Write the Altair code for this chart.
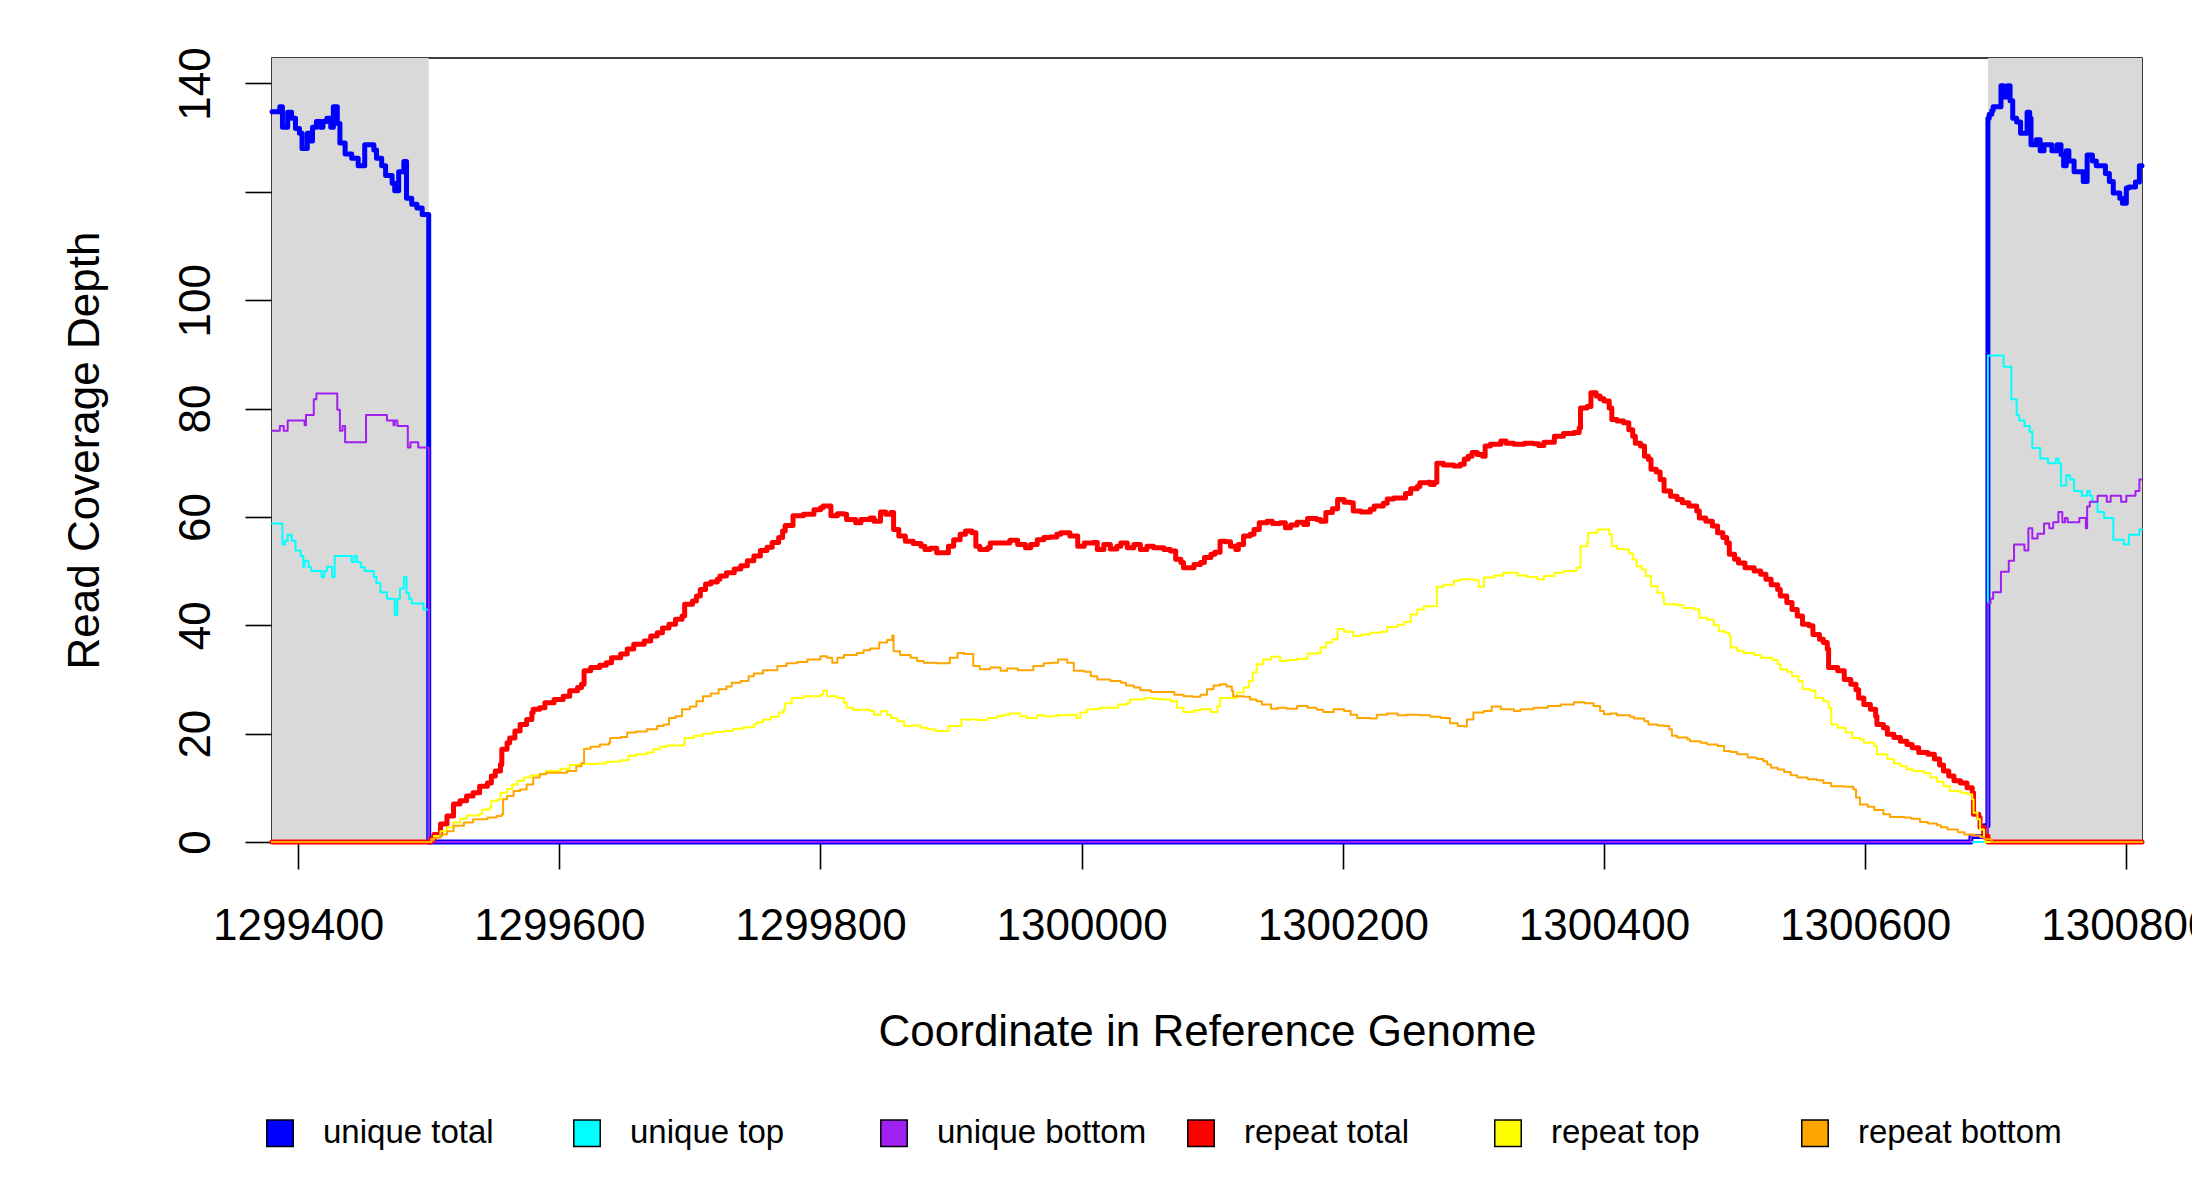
import altair as alt
import pandas as pd

# ---------------- data ----------------
SERIES_NAMES = ["unique total", "unique top", "unique bottom",
                "repeat total", "repeat top", "repeat bottom"]
SERIES_COLORS = ["#0000FF", "#00FFFF", "#A020F0", "#FF0000", "#FFFF00", "#FFA500"]
SERIES_WIDTHS = [5.0, 2.0, 2.0, 5.0, 2.0, 2.0]

X_TICKS = [1299400, 1299600, 1299800, 1300000, 1300200, 1300400, 1300600, 1300800]
Y_TICKS = [0, 20, 40, 60, 80, 100, 120, 140]
X_DOMAIN = [1299380, 1300812]
Y_DOMAIN = [0, 144.7]
FLANK_START = [1299380, 1300694]
FLANK_END = [1299500, 1300812]

UNIQUE_TOTAL = [
    (1299380, 134.8), (1299386, 135.7), (1299388, 131.9), (1299392, 134.7), (1299395, 133.6),
    (1299398, 131.7), (1299401, 130.8), (1299403, 128.0), (1299407, 130.8), (1299409, 129.4),
    (1299411, 131.9), (1299414, 133.0), (1299417, 131.9), (1299419, 133.0), (1299422, 133.6),
    (1299425, 131.9), (1299427, 135.7), (1299430, 132.6), (1299432, 129.0), (1299436, 127.0),
    (1299441, 126.2), (1299446, 124.8), (1299451, 128.7), (1299458, 127.7), (1299460, 126.2),
    (1299464, 124.8), (1299467, 123.0), (1299472, 121.6), (1299474, 120.2), (1299477, 123.7),
    (1299481, 125.6), (1299483, 118.8), (1299487, 117.7), (1299491, 117.0), (1299495, 115.8),
    (1299500, 0), (1300681, 1), (1300691, 3),
    (1300694, 133.6), (1300695, 134.3), (1300697, 135.0), (1300698, 135.7), (1300704, 139.6),
    (1300706, 137.5), (1300709, 139.6), (1300711, 136.8), (1300713, 133.6), (1300716, 132.9),
    (1300719, 130.8), (1300724, 134.7), (1300726, 133.6), (1300727, 128.7), (1300731, 129.6),
    (1300734, 127.6), (1300737, 128.7), (1300743, 127.6), (1300747, 128.7), (1300750, 126.9),
    (1300752, 124.8), (1300754, 127.6), (1300756, 125.7), (1300760, 123.7), (1300767, 121.9),
    (1300770, 126.8), (1300774, 125.7), (1300777, 124.8), (1300784, 123.4), (1300787, 121.9),
    (1300790, 119.8), (1300795, 118.8), (1300797, 117.9), (1300800, 120.7), (1300802, 120.9),
    (1300807, 121.8), (1300810, 124.8), (1300812, 124.8),
]

UNIQUE_TOP = [
    (1299380, 58.8), (1299388, 54.9), (1299390, 55.6), (1299392, 56.7), (1299395, 55.6),
    (1299398, 53.8), (1299402, 52.8), (1299404, 50.8), (1299405, 51.9), (1299408, 50.7),
    (1299410, 50.0), (1299418, 48.9), (1299420, 50.0), (1299422, 50.8), (1299426, 48.9),
    (1299428, 52.8), (1299441, 51.7), (1299443, 52.8), (1299445, 51.7), (1299448, 50.7),
    (1299451, 50.0), (1299458, 48.9), (1299460, 47.8), (1299463, 46.1), (1299468, 44.9),
    (1299474, 41.9), (1299476, 44.9), (1299478, 46.8), (1299481, 48.9), (1299483, 45.9),
    (1299485, 44.9), (1299487, 44.0), (1299496, 42.9), (1299500, 0),
    (1300694, 89.8), (1300706, 87.7), (1300712, 81.7), (1300716, 78.8), (1300718, 77.8),
    (1300722, 76.8), (1300726, 75.7), (1300728, 72.7), (1300734, 70.8), (1300740, 69.9),
    (1300746, 70.8), (1300748, 69.9), (1300750, 65.8), (1300754, 67.7), (1300757, 66.9),
    (1300760, 64.8), (1300766, 63.9), (1300770, 64.8), (1300772, 63.9), (1300774, 62.7),
    (1300778, 60.9), (1300783, 59.8), (1300790, 55.8), (1300798, 54.9), (1300802, 56.7),
    (1300810, 57.7), (1300812, 57.7),
]

UNIQUE_BOTTOM = [
    (1299380, 75.9), (1299386, 76.8), (1299389, 75.9), (1299392, 77.8), (1299405, 76.9),
    (1299406, 78.8), (1299412, 81.7), (1299414, 82.8), (1299430, 79.8), (1299432, 75.9),
    (1299434, 76.8), (1299436, 73.8), (1299452, 78.8), (1299468, 77.8), (1299473, 76.9),
    (1299474, 77.8), (1299476, 76.8), (1299484, 72.8), (1299486, 73.8), (1299492, 72.8),
    (1299500, 0), (1300681, 1.1),
    (1300694, 44.0), (1300696, 44.9), (1300698, 46.1), (1300704, 49.9), (1300710, 51.9),
    (1300714, 54.9), (1300722, 53.8), (1300725, 57.9), (1300728, 56.0), (1300732, 56.9),
    (1300737, 58.8), (1300741, 57.9), (1300744, 59.0), (1300748, 60.9), (1300751, 59.0),
    (1300753, 59.8), (1300755, 59.0), (1300764, 59.8), (1300769, 57.9), (1300770, 61.9),
    (1300772, 62.8), (1300778, 63.9), (1300785, 62.8), (1300788, 63.9), (1300796, 62.8),
    (1300800, 63.9), (1300807, 64.8), (1300810, 66.9), (1300812, 66.9),
]

REPEAT_TOTAL = [
    (1299380, 0), (1299502, 0.6), (1299504, 1.4), (1299509, 3.3), (1299514, 4.8), (1299519, 7.0),
    (1299524, 7.6), (1299529, 8.5), (1299534, 9.1), (1299539, 10.3), (1299545, 10.9),
    (1299548, 12.2), (1299551, 13.1), (1299555, 14.3), (1299556, 17.1), (1299560, 18.3),
    (1299562, 19.2), (1299566, 20.5), (1299570, 21.7), (1299575, 22.6), (1299579, 23.9),
    (1299580, 24.5), (1299585, 24.8), (1299589, 25.7), (1299596, 26.3), (1299603, 26.9),
    (1299608, 27.9), (1299614, 28.5), (1299617, 29.1), (1299619, 31.6), (1299624, 32.2),
    (1299631, 32.6), (1299636, 33.1), (1299640, 34.0), (1299647, 34.7), (1299652, 35.6),
    (1299657, 36.5), (1299665, 37.1), (1299670, 38.0), (1299675, 38.6), (1299679, 39.5),
    (1299684, 40.2), (1299689, 41.1), (1299694, 41.7), (1299696, 43.9), (1299702, 44.5),
    (1299705, 45.4), (1299708, 46.6), (1299712, 47.6), (1299716, 48.0), (1299721, 48.5),
    (1299723, 49.1), (1299728, 49.7), (1299734, 50.4), (1299739, 51.0), (1299744, 51.9),
    (1299749, 52.8), (1299754, 53.8), (1299759, 54.4), (1299763, 55.3), (1299768, 56.2),
    (1299771, 57.4), (1299773, 58.4), (1299779, 60.2), (1299787, 60.5), (1299795, 61.3),
    (1299800, 61.7), (1299802, 62.0), (1299808, 60.2), (1299813, 60.6), (1299818, 60.5),
    (1299820, 59.5), (1299827, 58.9), (1299831, 59.5), (1299838, 59.8), (1299841, 59.2),
    (1299846, 60.9), (1299850, 60.5), (1299854, 60.8), (1299856, 57.7), (1299860, 56.5),
    (1299865, 55.5), (1299871, 55.1), (1299877, 54.6), (1299880, 54.0), (1299884, 54.2),
    (1299889, 53.4), (1299898, 54.6), (1299902, 55.8), (1299907, 56.8), (1299911, 57.4),
    (1299916, 57.1), (1299919, 54.6), (1299922, 54.0), (1299928, 54.3), (1299930, 55.2),
    (1299945, 55.7), (1299951, 54.9), (1299957, 54.3), (1299961, 54.9), (1299966, 55.8),
    (1299971, 56.2), (1299976, 56.3), (1299981, 56.8), (1299984, 57.1), (1299991, 56.5),
    (1299997, 54.6), (1300002, 55.2), (1300009, 55.3), (1300012, 54.0), (1300017, 54.9),
    (1300022, 54.1), (1300027, 54.6), (1300030, 55.2), (1300035, 54.3), (1300040, 54.9),
    (1300045, 54.0), (1300050, 54.6), (1300055, 54.3), (1300063, 54.0), (1300068, 53.7),
    (1300072, 52.2), (1300076, 51.6), (1300078, 50.6), (1300086, 51.2), (1300091, 51.6),
    (1300094, 52.5), (1300099, 53.1), (1300102, 53.5), (1300106, 55.5), (1300110, 55.4),
    (1300114, 54.6), (1300118, 54.0), (1300120, 54.9), (1300124, 56.5), (1300129, 56.8),
    (1300132, 57.7), (1300136, 58.9), (1300142, 59.2), (1300146, 58.8), (1300152, 58.9),
    (1300156, 58.0), (1300160, 58.5), (1300165, 59.0), (1300170, 58.6), (1300173, 59.7),
    (1300180, 59.5), (1300183, 59.2), (1300187, 60.8), (1300192, 61.5), (1300196, 63.2),
    (1300201, 62.7), (1300206, 62.6), (1300208, 61.1), (1300214, 60.9), (1300221, 61.4),
    (1300224, 62.0), (1300231, 62.5), (1300234, 63.3), (1300239, 63.5), (1300248, 64.3),
    (1300252, 65.2), (1300257, 65.6), (1300259, 66.3), (1300265, 66.4), (1300267, 66.0),
    (1300270, 66.4), (1300272, 69.9), (1300277, 69.6), (1300285, 69.4), (1300290, 69.7),
    (1300293, 70.7), (1300296, 71.2), (1300299, 71.9), (1300303, 71.5), (1300307, 71.2),
    (1300309, 73.1), (1300313, 73.4), (1300321, 74.0), (1300325, 73.6), (1300331, 73.4),
    (1300339, 73.6), (1300346, 73.5), (1300350, 73.2), (1300354, 73.8), (1300362, 74.9),
    (1300369, 75.4), (1300377, 75.6), (1300381, 76.4), (1300382, 80.1), (1300387, 80.4),
    (1300390, 82.9), (1300394, 82.3), (1300397, 81.8), (1300400, 81.4), (1300404, 80.1),
    (1300406, 78.0), (1300410, 77.7), (1300415, 77.4), (1300419, 76.1), (1300422, 74.9),
    (1300424, 73.6), (1300428, 73.1), (1300431, 71.2), (1300434, 70.6), (1300436, 68.8),
    (1300440, 68.3), (1300443, 66.9), (1300446, 64.8), (1300451, 63.8), (1300456, 63.2),
    (1300460, 62.6), (1300465, 62.0), (1300471, 61.1), (1300473, 59.8), (1300478, 59.2),
    (1300483, 58.3), (1300487, 57.1), (1300491, 56.2), (1300494, 55.2), (1300496, 53.1),
    (1300500, 52.2), (1300503, 51.5), (1300508, 50.6), (1300515, 50.0), (1300520, 49.4),
    (1300524, 48.5), (1300528, 47.5), (1300533, 46.6), (1300535, 45.4), (1300540, 44.2),
    (1300544, 42.9), (1300548, 41.7), (1300552, 40.2), (1300557, 39.9), (1300560, 38.3),
    (1300565, 37.4), (1300568, 36.8), (1300571, 35.6), (1300572, 32.2), (1300579, 31.6),
    (1300584, 30.0), (1300589, 29.1), (1300593, 28.1), (1300595, 26.6), (1300599, 25.4),
    (1300604, 24.5), (1300608, 23.2), (1300609, 21.7), (1300614, 21.1), (1300617, 19.9),
    (1300622, 19.3), (1300627, 18.6), (1300632, 18.0), (1300636, 17.4), (1300641, 16.5),
    (1300648, 16.2), (1300653, 15.3), (1300657, 14.2), (1300660, 13.1), (1300664, 12.2),
    (1300668, 11.3), (1300673, 10.9), (1300678, 10.0), (1300682, 9.1), (1300683, 5.1),
    (1300687, 4.5), (1300688, 2.7), (1300691, 1.1), (1300694, 0), (1300812, 0),
]

REPEAT_TOP = [
    (1299380, 0), (1299502, 0.5), (1299504, 1.1), (1299509, 2.0), (1299514, 2.7), (1299519, 3.6),
    (1299524, 4.3), (1299529, 4.9), (1299539, 5.2), (1299541, 6.0), (1299547, 6.5),
    (1299548, 7.6), (1299553, 7.9), (1299555, 9.1), (1299560, 9.8), (1299564, 10.6),
    (1299568, 11.3), (1299573, 11.9), (1299578, 12.3), (1299585, 12.6), (1299590, 13.1),
    (1299601, 13.5), (1299608, 14.2), (1299616, 14.4), (1299629, 14.5), (1299636, 14.8),
    (1299647, 15.1), (1299653, 15.9), (1299659, 16.2), (1299667, 16.5), (1299672, 17.1),
    (1299677, 17.6), (1299682, 17.8), (1299695, 18.0), (1299696, 19.2), (1299703, 19.6),
    (1299710, 20.0), (1299718, 20.3), (1299726, 20.5), (1299733, 20.9), (1299741, 21.2),
    (1299749, 21.7), (1299751, 22.1), (1299756, 22.6), (1299762, 23.1), (1299768, 23.9),
    (1299772, 24.5), (1299773, 25.6), (1299778, 26.6), (1299787, 26.9), (1299800, 27.2),
    (1299802, 27.9), (1299805, 26.9), (1299813, 26.6), (1299818, 25.7), (1299820, 24.8),
    (1299825, 24.4), (1299838, 24.2), (1299841, 23.5), (1299846, 24.2), (1299851, 23.5),
    (1299854, 22.9), (1299859, 22.3), (1299864, 21.4), (1299869, 21.5), (1299877, 21.1),
    (1299882, 20.8), (1299888, 20.5), (1299898, 21.4), (1299908, 22.6), (1299920, 22.5),
    (1299928, 22.9), (1299935, 23.2), (1299940, 23.5), (1299945, 23.7), (1299953, 23.2),
    (1299958, 22.9), (1299966, 23.4), (1299971, 23.2), (1299981, 23.4), (1299991, 23.5),
    (1299996, 22.9), (1299999, 23.9), (1300004, 24.5), (1300014, 24.8), (1300028, 25.4),
    (1300035, 25.7), (1300037, 26.3), (1300048, 26.6), (1300055, 26.4), (1300063, 26.3),
    (1300068, 26.0), (1300073, 24.8), (1300078, 24.0), (1300086, 24.3), (1300091, 24.5),
    (1300099, 24.0), (1300104, 25.1), (1300106, 26.6), (1300119, 27.6), (1300124, 28.5),
    (1300128, 29.7), (1300131, 31.3), (1300134, 32.8), (1300139, 33.7), (1300145, 34.2),
    (1300152, 33.4), (1300157, 33.6), (1300165, 33.8), (1300173, 34.8), (1300180, 34.9),
    (1300183, 35.9), (1300187, 36.8), (1300192, 37.4), (1300196, 39.3), (1300201, 38.8),
    (1300208, 38.0), (1300214, 38.3), (1300221, 38.6), (1300229, 38.8), (1300234, 39.7),
    (1300242, 40.1), (1300247, 40.6), (1300252, 42.0), (1300257, 42.9), (1300262, 43.5),
    (1300272, 47.1), (1300277, 47.5), (1300285, 48.2), (1300290, 48.5), (1300300, 48.3),
    (1300304, 47.1), (1300308, 48.8), (1300316, 49.2), (1300323, 49.7), (1300334, 49.2),
    (1300341, 48.9), (1300349, 48.5), (1300354, 49.1), (1300362, 49.7), (1300369, 50.0),
    (1300379, 50.6), (1300382, 54.6), (1300387, 55.2), (1300388, 57.1), (1300395, 57.7),
    (1300404, 56.8), (1300406, 54.6), (1300410, 54.1), (1300415, 54.0), (1300419, 53.3),
    (1300422, 52.2), (1300425, 50.9), (1300429, 50.3), (1300432, 49.1), (1300436, 47.2),
    (1300441, 46.0), (1300445, 45.1), (1300446, 43.9), (1300456, 43.7), (1300461, 43.2),
    (1300469, 42.9), (1300473, 41.4), (1300479, 41.0), (1300484, 40.0), (1300488, 38.9),
    (1300493, 38.6), (1300496, 38.0), (1300497, 35.9), (1300502, 35.3), (1300507, 34.9),
    (1300515, 34.5), (1300520, 34.0), (1300529, 33.6), (1300533, 32.8), (1300535, 31.9),
    (1300540, 31.4), (1300544, 30.6), (1300549, 29.7), (1300552, 28.2), (1300558, 27.9),
    (1300562, 26.6), (1300568, 26.0), (1300572, 24.8), (1300574, 21.7), (1300579, 21.1),
    (1300585, 20.2), (1300590, 19.2), (1300596, 18.9), (1300599, 18.3), (1300607, 17.7),
    (1300609, 16.2), (1300617, 15.3), (1300622, 14.5), (1300627, 14.0), (1300632, 13.4),
    (1300637, 13.1), (1300645, 12.7), (1300650, 11.9), (1300655, 11.1), (1300660, 10.3),
    (1300665, 9.4), (1300673, 9.1), (1300678, 8.8), (1300682, 7.9), (1300683, 5.4),
    (1300686, 4.2), (1300688, 2.3), (1300691, 0.5), (1300692, 0), (1300812, 0),
]

REPEAT_BOTTOM = [
    (1299380, 0), (1299502, 0.4), (1299504, 0.8), (1299509, 1.4), (1299514, 2.0), (1299519, 3.0),
    (1299527, 3.6), (1299534, 4.2), (1299545, 4.5), (1299552, 4.8), (1299556, 5.1),
    (1299557, 7.9), (1299560, 8.5), (1299565, 9.4), (1299570, 9.7), (1299575, 10.6),
    (1299580, 11.9), (1299585, 12.5), (1299590, 12.8), (1299606, 13.1), (1299613, 14.0),
    (1299617, 14.6), (1299619, 17.2), (1299624, 17.6), (1299631, 18.0), (1299638, 18.3),
    (1299639, 19.2), (1299647, 19.4), (1299652, 20.2), (1299659, 20.4), (1299667, 20.8),
    (1299675, 21.4), (1299680, 21.7), (1299684, 22.9), (1299689, 23.2), (1299694, 24.5),
    (1299700, 25.0), (1299705, 26.0), (1299710, 26.9), (1299716, 27.4), (1299722, 28.2),
    (1299728, 28.7), (1299732, 29.4), (1299739, 29.7), (1299745, 30.6), (1299749, 31.1),
    (1299756, 31.7), (1299767, 32.5), (1299774, 33.0), (1299782, 33.2), (1299790, 33.7),
    (1299800, 34.3), (1299805, 34.0), (1299809, 33.1), (1299813, 34.0), (1299818, 34.5),
    (1299828, 34.9), (1299833, 35.4), (1299838, 35.7), (1299845, 36.8), (1299851, 37.3),
    (1299855, 38.1), (1299856, 35.2), (1299861, 34.5), (1299869, 34.0), (1299874, 33.4),
    (1299879, 33.1), (1299889, 33.0), (1299899, 34.0), (1299905, 34.9), (1299910, 34.7),
    (1299917, 32.5), (1299922, 31.9), (1299930, 32.2), (1299938, 31.6), (1299943, 32.0),
    (1299951, 31.7), (1299963, 32.5), (1299971, 33.0), (1299976, 33.1), (1299982, 33.7),
    (1299989, 33.1), (1299994, 31.6), (1300002, 31.4), (1300007, 30.6), (1300012, 30.0),
    (1300022, 29.7), (1300030, 29.4), (1300034, 28.9), (1300040, 28.5), (1300045, 28.0),
    (1300053, 27.7), (1300071, 27.2), (1300078, 26.9), (1300085, 26.8), (1300091, 27.2),
    (1300096, 28.2), (1300101, 28.9), (1300106, 29.1), (1300111, 28.7), (1300115, 27.9),
    (1300116, 26.9), (1300124, 26.8), (1300129, 26.3), (1300134, 26.0), (1300138, 25.4),
    (1300145, 24.6), (1300150, 24.8), (1300157, 24.6), (1300165, 25.1), (1300173, 24.8),
    (1300180, 24.4), (1300185, 24.0), (1300193, 24.5), (1300201, 24.2), (1300206, 23.5),
    (1300211, 22.9), (1300221, 22.8), (1300226, 23.5), (1300234, 23.7), (1300242, 23.4),
    (1300249, 23.5), (1300259, 23.4), (1300267, 23.1), (1300275, 22.9), (1300282, 21.9),
    (1300288, 21.4), (1300293, 21.3), (1300295, 22.6), (1300300, 23.9), (1300308, 24.2),
    (1300314, 25.0), (1300321, 24.5), (1300331, 24.2), (1300336, 24.5), (1300346, 24.8),
    (1300357, 25.1), (1300367, 25.4), (1300377, 25.8), (1300385, 25.6), (1300392, 25.1),
    (1300397, 24.2), (1300400, 23.6), (1300405, 23.7), (1300410, 23.4), (1300420, 23.1),
    (1300423, 22.8), (1300431, 22.3), (1300434, 21.7), (1300441, 21.5), (1300446, 21.4),
    (1300450, 20.8), (1300452, 19.6), (1300456, 19.3), (1300464, 18.9), (1300466, 18.6),
    (1300474, 18.3), (1300479, 18.0), (1300487, 17.7), (1300492, 16.8), (1300497, 16.6),
    (1300502, 16.2), (1300510, 15.6), (1300517, 15.3), (1300522, 14.9), (1300525, 14.3),
    (1300528, 13.7), (1300533, 13.4), (1300538, 12.9), (1300543, 12.3), (1300548, 11.9),
    (1300556, 11.6), (1300563, 11.4), (1300568, 10.9), (1300574, 10.3), (1300584, 10.2),
    (1300591, 9.7), (1300593, 8.2), (1300596, 6.9), (1300602, 6.5), (1300607, 5.9),
    (1300614, 5.1), (1300619, 4.6), (1300630, 4.5), (1300635, 4.3), (1300642, 3.7),
    (1300648, 3.4), (1300655, 3.1), (1300658, 2.7), (1300663, 2.3), (1300671, 1.8),
    (1300676, 1.4), (1300683, 1.2), (1300688, 0.9), (1300691, 0.5), (1300697, 0),
    (1300812, 0),
]

SERIES_POINTS = [UNIQUE_TOTAL, UNIQUE_TOP, UNIQUE_BOTTOM,
                 REPEAT_TOTAL, REPEAT_TOP, REPEAT_BOTTOM]

# ---------------- tables ----------------
rows = []
for name, pts in zip(SERIES_NAMES, SERIES_POINTS):
    for i, (p, v) in enumerate(pts):
        rows.append({"series": name, "pos": p, "depth": v, "seq": i})
data = pd.DataFrame(rows)
flank_df = pd.DataFrame({"start": FLANK_START, "end": FLANK_END})

# ---------------- chart ----------------
W, H = 1870, 784
FONT = "Liberation Sans"
XT = "Coordinate in Reference Genome"
YT = "Read Coverage Depth"

xs = alt.Scale(domain=X_DOMAIN, nice=False, zero=False)
ys = alt.Scale(domain=Y_DOMAIN, nice=False, zero=False)

x_axis = alt.Axis(
    values=X_TICKS, format="d", grid=False, domain=False,
    tickSize=27, tickWidth=1.6, tickColor="black",
    labelFont=FONT, labelFontSize=44, labelColor="black",
    labelBaseline="alphabetic", labelPadding=70,
    labelOverlap=False, labelFlush=False, labelBound=False,
    titleFont=FONT, titleFontSize=44, titleFontWeight="normal", titleColor="black",
    titleBaseline="alphabetic", titleY=203, titleX=W / 2, titleAlign="center",
)
y_axis = alt.Axis(
    values=Y_TICKS, grid=False, domain=False,
    tickSize=27, tickWidth=1.6, tickColor="black",
    labelExpr="datum.value == 120 ? '' : datum.label",
    labelFont=FONT, labelFontSize=44, labelColor="black",
    labelAngle=270, labelAlign="center", labelBaseline="alphabetic", labelPadding=36,
    labelOverlap=False, labelFlush=False, labelBound=False,
    titleFont=FONT, titleFontSize=44, titleFontWeight="normal", titleColor="black",
    titleAngle=270, titleAlign="center", titleBaseline="alphabetic",
    titleX=-174, titleY=H / 2,
)

flanks = alt.Chart(flank_df).mark_rect(color="#D9D9D9", strokeWidth=0).encode(
    x=alt.X("start:Q", scale=xs, axis=x_axis, title=XT),
    x2="end:Q",
    y=alt.value(0),
    y2=alt.value(H),
)

lines = []
for name, col, w in zip(SERIES_NAMES, SERIES_COLORS, SERIES_WIDTHS):
    lines.append(
        alt.Chart(data)
        .transform_filter(alt.datum.series == name)
        .mark_line(interpolate="step-after", color=col, strokeWidth=w,
                   strokeJoin="round", strokeCap="round")
        .encode(
            x=alt.X("pos:Q", scale=xs, axis=x_axis, title=XT),
            y=alt.Y("depth:Q", scale=ys, axis=y_axis, title=YT),
            order="seq:Q",
        )
    )

legend_layer = alt.Chart(data).mark_point(
    shape="square", filled=True, opacity=0, size=1
).encode(
    x=alt.X("pos:Q", scale=xs, axis=x_axis, title=XT),
    y=alt.Y("depth:Q", scale=ys, axis=y_axis, title=YT),
    fill=alt.Fill(
        "series:N",
        scale=alt.Scale(domain=SERIES_NAMES, range=SERIES_COLORS),
        legend=alt.Legend(
            title=None, orient="none", legendX=-8.5, legendY=1058.5,
            direction="horizontal", columns=6, gridAlign="all", columnPadding=38,
            symbolType="square", symbolSize=700, symbolStrokeColor="black",
            symbolStrokeWidth=1.5, symbolOpacity=1,
            labelFont=FONT, labelFontSize=33, labelColor="black", labelOffset=26.5,
            labelLimit=0, padding=0,
        ),
    ),
)

chart = (
    alt.layer(flanks, *lines, legend_layer)
    .properties(
        width=W, height=H,
        autosize=alt.AutoSizeParams(type="none"),
        padding={"left": 264, "top": 50, "right": 50, "bottom": 350},
        background="white",
    )
    .configure(font=FONT)
    .configure_view(stroke="black", strokeWidth=1.5)
)

chart.save("out.html", embed_options={"renderer": "svg", "actions": False})
